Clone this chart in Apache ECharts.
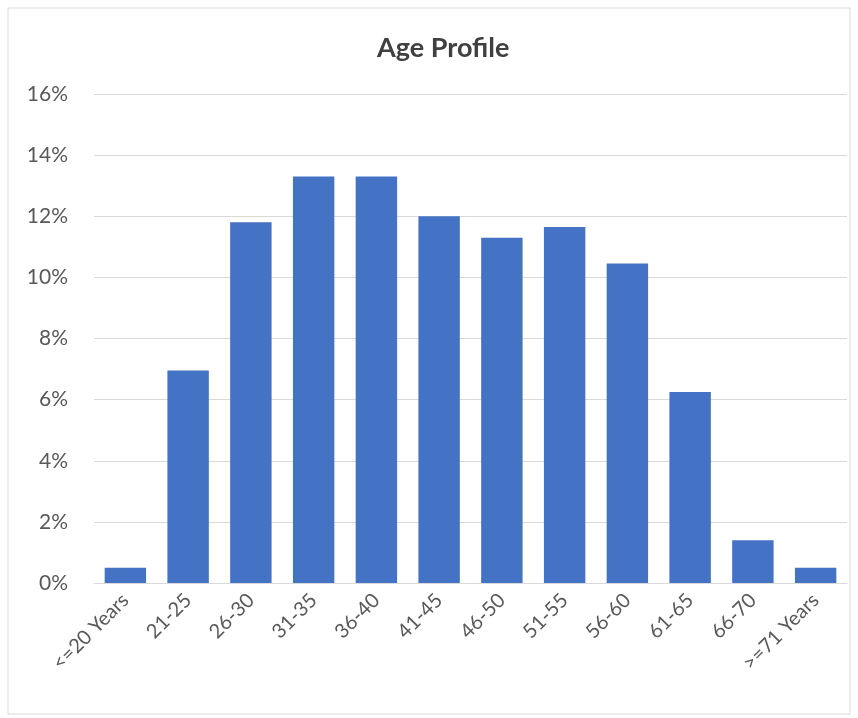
<!DOCTYPE html>
<html><head><meta charset="utf-8">
<script src="https://cdn.jsdelivr.net/npm/echarts@6/dist/echarts.min.js"></script>
<style>html,body{margin:0;padding:0;background:#fff}#c{width:858px;height:718px}</style>
</head><body><div id="c"></div>
<script>
const categories = ['<=20 Years','21-25','26-30','31-35','36-40','41-45','46-50','51-55','56-60','61-65','66-70','>=71 Years'];
const values = [0.5, 6.95, 11.8, 13.3, 13.3, 12.0, 11.3, 11.65, 10.45, 6.25, 1.4, 0.5];
const yTicks = [0, 2, 4, 6, 8, 10, 12, 14, 16];

const chart = echarts.init(document.getElementById('c'));
chart.setOption({
  animation: false,
  backgroundColor: '#fff',
  graphic: [{type:'rect', shape:{x:8,y:8,width:842,height:706}, style:{fill:'none', stroke:'#d9d9d9', lineWidth:1}}],
  title: {text:'Age Profile', left:372, top:30, textStyle:{fontFamily:'Lato', fontSize:27, fontWeight:'bold', color:'#404040'}},
  grid: {left:94, right:11, top:94, bottom:135},
  xAxis: {type:'category', data:categories,
    axisLine:{lineStyle:{color:'#d9d9d9'}}, axisTick:{show:false},
    axisLabel:{rotate:45, interval:0, color:'#595959', fontFamily:'Lato', fontSize:20, margin:14}},
  yAxis: {type:'value', min:yTicks[0], max:yTicks[yTicks.length-1], interval:2,
    axisLine:{show:false}, axisTick:{show:false},
    splitLine:{lineStyle:{color:'#d9d9d9'}},
    axisLabel:{formatter:v=>v+'%', color:'#595959', fontFamily:'Lato', fontSize:21, margin:26}},
  series: [{type:'bar', data:values, barCategoryGap:'34%', itemStyle:{color:'#4472C4'}}]
});
</script></body></html>
